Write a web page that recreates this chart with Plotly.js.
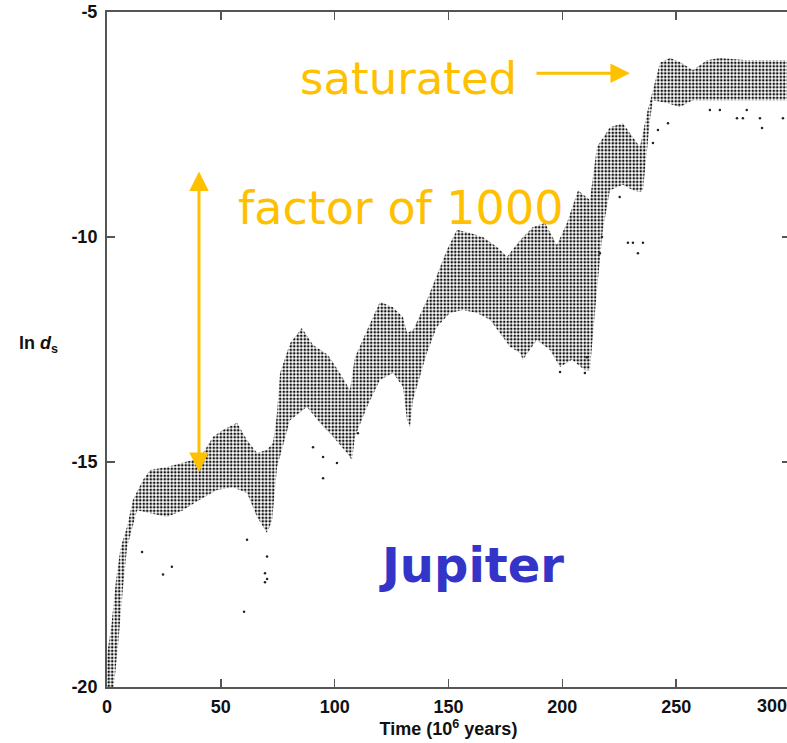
<!DOCTYPE html>
<html>
<head>
<meta charset="utf-8">
<script src="https://cdn.plot.ly/plotly-3.0.1.min.js"></script>
<style>
html,body{margin:0;padding:0;background:#fff;overflow:hidden;width:787px;height:743px;}
#chart{width:800px;height:743px;}
</style>
</head>
<body>
<div id="chart"></div>
<script>
// Upper edge of the scatter cloud (time in 10^6 years, ln d_s)
const upperX = [0, 2, 4, 6, 8.8, 11.4, 15.8, 18.9, 26.4, 33.4, 40.8, 46.6, 50.9, 57.1, 61.5, 65.9, 70.3, 72.9, 74.5, 76.0, 80.4, 85.6, 90.5, 97.1, 102.3, 106.7, 108.9, 114.2, 119.9, 125.6, 130.0, 131.8, 134.4, 140.5, 146.2, 149.3, 153.7, 159.4, 165.1, 171.3, 175.7, 181.4, 187.1, 192.4, 197.6, 202.0, 206.9, 212.1, 215.2, 220.9, 226.6, 231.0, 234.1, 237.2, 239.4, 242.9, 247.3, 251.6, 257.4, 263.5, 269.2, 281.1, 300];
const upperY = [-19.3, -18.6, -17.6, -16.9, -16.44, -15.84, -15.4, -15.18, -15.11, -15.02, -14.91, -14.44, -14.29, -14.13, -14.51, -14.8, -14.73, -14.58, -14.0, -13.02, -12.36, -12.02, -12.4, -12.62, -13.02, -13.4, -12.67, -12.07, -11.44, -11.56, -11.78, -12.13, -12.07, -11.4, -10.67, -10.29, -9.84, -9.91, -10.0, -10.22, -10.44, -10.07, -9.78, -9.69, -10.18, -9.69, -8.96, -9.18, -8.0, -7.56, -7.47, -7.78, -8.0, -7.24, -6.8, -6.13, -6.02, -6.11, -6.29, -6.07, -6.02, -6.07, -6.07];
// Lower edge of the scatter cloud
const lowerX = [0, 3, 5, 7, 8.8, 13.2, 18.9, 26.4, 33.4, 40.8, 48.3, 55.3, 61.5, 65.9, 70.3, 72.5, 74.7, 80.4, 87.8, 93.5, 99.3, 105.4, 107.6, 108.9, 114.2, 119.9, 125.6, 130.0, 131.8, 133.1, 134.4, 140.5, 144.9, 150.6, 156.3, 162.5, 168.2, 172.6, 177.0, 181.4, 182.7, 188.8, 194.6, 199.0, 204.2, 209.9, 212.1, 215.2, 217.8, 220.9, 226.6, 231.0, 234.1, 235.4, 237.2, 238.5, 239.8, 245.9, 251.6, 257.4, 263.5, 275, 290, 300];
const lowerY = [-20, -20, -19.0, -17.8, -16.9, -16.07, -16.13, -16.22, -16.07, -15.84, -15.62, -15.56, -15.69, -16.22, -16.58, -16.3, -15.11, -14.07, -13.78, -14.13, -14.44, -14.8, -14.96, -14.44, -13.78, -13.18, -13.02, -13.33, -14.07, -14.22, -13.62, -12.58, -12.0, -11.69, -11.62, -11.69, -11.84, -12.13, -12.44, -12.58, -12.73, -12.29, -12.51, -12.89, -12.73, -12.96, -12.96, -11.18, -9.84, -8.96, -8.84, -8.96, -9.0, -8.96, -8.07, -7.4, -6.96, -7.02, -7.11, -6.96, -6.96, -6.96, -6.96, -6.96];
// Isolated points away from the cloud
const strayX = [70.3, 60.2, 24.6, 28.5, 15.4, 61.5, 69.4, 69.4, 70.3, 90.5, 94.9, 101.0, 94.9, 110.2, 199.0, 209.9, 210.8, 217.4, 216.5, 228.8, 231.0, 233.2, 235.4, 225.2, 264.8, 269.2, 281.0, 276.7, 279.3, 286.8, 287.7, 296.9, 242.0, 239.8, 246.4];
const strayY = [-17.6, -18.33, -17.5, -17.33, -17.0, -16.73, -17.47, -17.67, -17.1, -14.67, -14.89, -15.02, -15.36, -14.36, -13.0, -13.02, -12.67, -10.0, -10.36, -10.13, -10.13, -10.36, -10.13, -9.11, -7.18, -7.18, -7.18, -7.36, -7.36, -7.36, -7.58, -7.36, -7.62, -7.91, -7.47];
const xTicks = [0, 50, 100, 150, 200, 250];
const yTicks = [-20, -15, -10, -5];

const cloudX = upperX.concat(lowerX.slice().reverse());
const cloudY = upperY.concat(lowerY.slice().reverse());

const gold = '#FFC000';
const axisFont = {family: 'Liberation Sans, Arial, sans-serif', size: 18, color: '#111', weight: 'bold'};

const traces = [
  {
    x: cloudX, y: cloudY, type: 'scatter', mode: 'lines', fill: 'toself',
    line: {width: 0, color: 'rgba(0,0,0,0)'},
    fillcolor: 'rgba(0,0,0,0)',
    fillpattern: {shape: '.', fgcolor: '#111', bgcolor: 'rgba(255,255,255,0)', size: 3.5, solidity: 0.45},
    hoverinfo: 'skip', showlegend: false
  },
  {
    x: strayX, y: strayY, type: 'scatter', mode: 'markers',
    marker: {size: 2.5, color: '#222'},
    hoverinfo: 'skip', showlegend: false
  }
];

const layout = {
  width: 800, height: 743,
  margin: {l: 107, r: 10, t: 12, b: 56},
  paper_bgcolor: '#fff', plot_bgcolor: '#fff',
  showlegend: false,
  xaxis: {
    range: [0, 300], tickvals: xTicks, ticktext: xTicks.map(String),
    showgrid: false, zeroline: false, showline: true, linecolor: '#555', linewidth: 2,
    mirror: 'ticks', ticks: 'inside', ticklen: 8, tickwidth: 1.5, tickcolor: '#555',
    tickfont: axisFont, ticklabelstandoff: 2,
    title: {text: 'Time (10<sup>6</sup> years)', font: {family: 'Liberation Sans, Arial, sans-serif', size: 18, color: '#111', weight: 'bold'}, standoff: 4},
    automargin: false
  },
  yaxis: {
    range: [-20, -5], tickvals: yTicks, ticktext: yTicks.map(String),
    showgrid: false, zeroline: false, showline: true, linecolor: '#555', linewidth: 2,
    mirror: 'ticks', ticks: 'inside', ticklen: 8, tickwidth: 1.5, tickcolor: '#555',
    tickfont: axisFont, ticklabelstandoff: 4,
    automargin: false
  },
  annotations: [
    {xref: 'paper', yref: 'paper', x: -0.0996, y: 0.507, text: 'ln <i>d</i><sub>s</sub>', showarrow: false,
     font: {family: 'Liberation Sans, Arial, sans-serif', size: 18, color: '#111', weight: 'bold'}, xanchor: 'center', yanchor: 'middle'},
    {xref: 'paper', yref: 'paper', x: 0.9985, y: -0.01, text: '300', showarrow: false, xanchor: 'right', yanchor: 'top',
     font: axisFont},
    {xref: 'x', yref: 'y', x: 132.6, y: -6.47, text: 'saturated', showarrow: false,
     font: {family: 'DejaVu Sans, sans-serif', size: 45, color: gold}, xanchor: 'center', yanchor: 'middle'},
    {xref: 'x', yref: 'y', x: 229.7, y: -6.36, ax: 188, ay: -6.36, axref: 'x', ayref: 'y', text: '',
     showarrow: true, arrowhead: 2, arrowsize: 1.3, arrowwidth: 3, arrowcolor: gold, standoff: 0, startstandoff: 0},
    {xref: 'x', yref: 'y', x: 129.1, y: -9.36, text: 'factor of 1000', showarrow: false,
     font: {family: 'DejaVu Sans, sans-serif', size: 46, color: gold}, xanchor: 'center', yanchor: 'middle'},
    {xref: 'x', yref: 'y', x: 40.4, y: -15.22, ax: 40.4, ay: -8.51, axref: 'x', ayref: 'y', text: '',
     showarrow: true, arrowside: 'end+start', arrowhead: 2, startarrowhead: 2, arrowsize: 1.3, startarrowsize: 1.3,
     arrowwidth: 3, arrowcolor: gold, standoff: 0, startstandoff: 0},
    {xref: 'x', yref: 'y', x: 160.3, y: -17.29, text: 'Jupiter', showarrow: false,
     font: {family: 'DejaVu Sans, sans-serif', size: 48, color: '#3434c8', weight: 'bold'}, xanchor: 'center', yanchor: 'middle'}
  ]
};

Plotly.newPlot('chart', traces, layout, {staticPlot: true, displayModeBar: false});
</script>
</body>
</html>
